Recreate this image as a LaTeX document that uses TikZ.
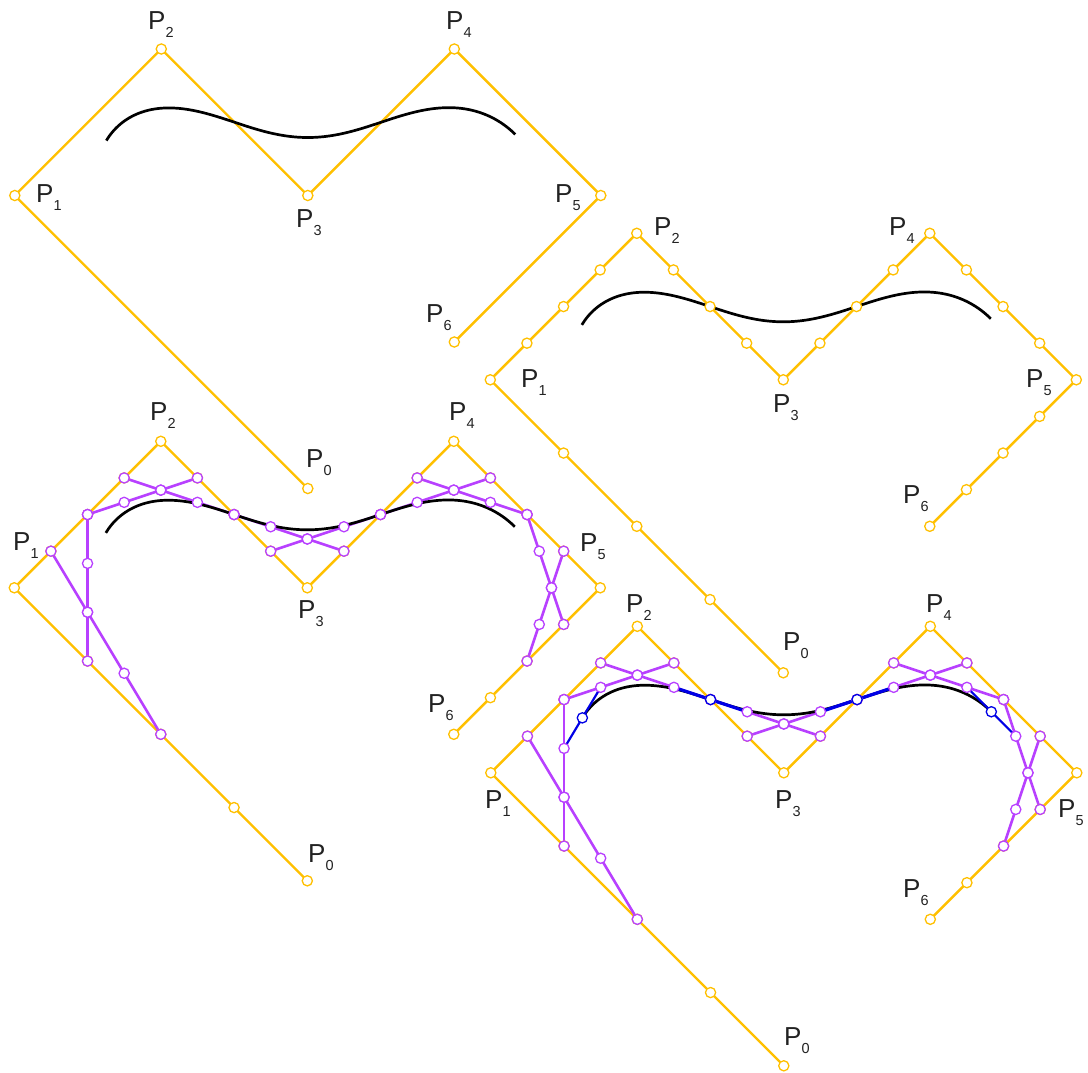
\documentclass[tikz,border=0pt]{standalone}
\usepackage{fontspec}
\setmainfont{Liberation Sans}
\usetikzlibrary{calc}
\definecolor{orng}{RGB}{255,192,0}
\definecolor{purp}{RGB}{184,64,255}
\definecolor{blu}{RGB}{0,0,230}
\definecolor{labc}{RGB}{34,34,34}
\tikzset{
  declare function={Na(\x)=(1-\x)^4/24; Nb(\x)=(11-12*\x-6*\x^2+12*\x^3-4*\x^4)/24;
    Nc(\x)=(11+12*\x-6*\x^2-12*\x^3+6*\x^4)/24; Nd(\x)=(1+4*\x+6*\x^2+4*\x^3-4*\x^4)/24;
    Ne(\x)=\x^4/24;},
  poly/.style={draw=orng, line width=2.4pt, line join=miter},
  purpln/.style={draw=purp, line width=2.6pt},
  bluln/.style={draw=blu, line width=2.2pt},
  blulnthick/.style={draw=blu, line width=3.2pt},
  curve/.style={draw=black, line width=2.7pt},
  dotO/.style={draw=orng, fill=white, line width=1.3pt},
  dotP/.style={draw=purp, fill=white, line width=1.3pt},
  dotB/.style={draw=blu, fill=white, line width=1.3pt},
  lab/.style={anchor=base west, inner sep=0pt, text=labc, font=\fontsize{26}{26}\selectfont},
}
\newcommand\lbl[1]{P\raisebox{-8pt}{\fontsize{14.5}{14.5}\selectfont #1}}
% base points and level-1 edge points
\newcommand\defpts[1]{%
  \coordinate (#1P0) at (2,-2);
  \coordinate (#1P1) at (0,0);
  \coordinate (#1P2) at (1,1);
  \coordinate (#1P3) at (2,0);
  \coordinate (#1P4) at (3,1);
  \coordinate (#1P5) at (4,0);
  \coordinate (#1P6) at (3,-1);
  \foreach \i in {0,...,5}{%
    \pgfmathtruncatemacro\j{\i+1}%
    \foreach \k in {1,2,3}{%
      \coordinate (#1e\i\k) at ($(#1P\i)!\k/4!(#1P\j)$);
    }%
  }%
}
\newcommand\drawpoly[1]{%
  \draw[poly] (#1P0) -- (#1P1) -- (#1P2) -- (#1P3) -- (#1P4) -- (#1P5) -- (#1P6);
}
\newcommand\drawcurve{%
  \draw[curve] plot[domain=0:1,samples=30,smooth] ({2*Na(\x)+Nc(\x)+2*Nd(\x)+3*Ne(\x)},{-2*Na(\x)+Nc(\x)+Ne(\x)})
    -- plot[domain=0:1,samples=30,smooth] ({Nb(\x)+2*Nc(\x)+3*Nd(\x)+4*Ne(\x)},{Nb(\x)+Nd(\x)})
    -- plot[domain=0:1,samples=30,smooth] ({Na(\x)+2*Nb(\x)+3*Nc(\x)+4*Nd(\x)+3*Ne(\x)},{Na(\x)+Nc(\x)-Ne(\x)});
}
\newcommand\vertdots[1]{%
  \foreach \i in {0,...,6}{\draw[dotO] (#1P\i) circle[radius=5.1pt];}%
}
\newcommand\edgedotsO[1]{%
  \foreach \i in {0,...,5}{\foreach \k in {1,2,3}{\draw[dotO] (#1e\i\k) circle[radius=5.1pt];}}%
}
\newcommand\deflevtwo[1]{%
  \foreach \i in {0,...,4}{%
    \pgfmathtruncatemacro\j{\i+1}%
    \coordinate (#1bc\i-a) at ($(#1e\i2)!1/3!(#1e\j1)$);
    \coordinate (#1bc\i-b) at ($(#1e\i2)!2/3!(#1e\j1)$);
    \coordinate (#1ab\i-a) at ($(#1e\i3)!1/3!(#1e\j2)$);
    \coordinate (#1ab\i-b) at ($(#1e\i3)!2/3!(#1e\j2)$);
  }%
}
\newcommand\drawlevtwo[1]{%
  \foreach \i in {0,...,4}{%
    \pgfmathtruncatemacro\j{\i+1}%
    \draw[purpln] (#1e\i2) -- (#1e\j1);
    \draw[purpln] (#1e\i3) -- (#1e\j2);
  }%
}
\newcommand\levtwodots[1]{%
  \foreach \i in {0,...,4}{%
    \pgfmathtruncatemacro\j{\i+1}%
    \draw[dotP] (#1e\i2) circle[radius=5.1pt];
    \draw[dotP] (#1e\i3) circle[radius=5.1pt];
    \draw[dotP] (#1e\j1) circle[radius=5.1pt];
    \draw[dotP] (#1e\j2) circle[radius=5.1pt];
    \draw[dotP] (#1bc\i-a) circle[radius=5.1pt];
    \draw[dotP] (#1bc\i-b) circle[radius=5.1pt];
    \draw[dotP] (#1ab\i-a) circle[radius=5.1pt];
    \draw[dotP] (#1ab\i-b) circle[radius=5.1pt];
  }%
}
\begin{document}
\begin{tikzpicture}[x=1pt,y=-1pt]
\useasboundingbox[fill=white] (0,0) rectangle (1088,1073);

% ---------- copy 1 ----------
\begin{scope}[shift={(14.8,195.5)}, x={(146.5pt,0pt)}, y={(0pt,146.5pt)}]
  \defpts{a}
  \drawpoly{a}
  \drawcurve
  \vertdots{a}
\end{scope}

% ---------- copy 2 ----------
\begin{scope}[shift={(490.3,379.8)}, x={(146.5pt,0pt)}, y={(0pt,146.5pt)}]
  \defpts{b}
  \drawpoly{b}
  \drawcurve
  \vertdots{b}
  \edgedotsO{b}
\end{scope}

% ---------- copy 3 ----------
\begin{scope}[shift={(14.3,587.8)}, x={(146.5pt,0pt)}, y={(0pt,146.5pt)}]
  \defpts{c}
  \deflevtwo{c}
  \drawpoly{c}
  \drawlevtwo{c}
  \drawcurve
  \vertdots{c}
  \edgedotsO{c}
  \levtwodots{c}
\end{scope}

% ---------- copy 4 ----------
\begin{scope}[shift={(490.8,772.8)}, x={(146.5pt,0pt)}, y={(0pt,146.5pt)}]
  \defpts{d}
  \deflevtwo{d}
  \drawpoly{d}
  \drawlevtwo{d}
  \drawcurve
  \foreach \i in {0,...,3}{%
    \pgfmathtruncatemacro\j{\i+1}%
    \coordinate (dc\i) at ($(dab\i-b)!0.5!(dbc\j-a)$);
  }
  \draw[bluln] (dab0-b) -- (dbc1-a);
  \draw[blulnthick] (dab1-b) -- (dbc2-a);
  \draw[blulnthick] (dab2-b) -- (dbc3-a);
  \draw[bluln] (dab3-b) -- (dbc4-a);
  \vertdots{d}
  \edgedotsO{d}
  \levtwodots{d}
  \foreach \i in {0,...,3}{\draw[dotB] (dc\i) circle[radius=5.1pt];}
\end{scope}

% ---------- labels ----------
\node[lab] (aL0) at (306,467) {\lbl{0}};
\node[lab] (aL1) at (36,202) {\lbl{1}};
\node[lab] (aL2) at (148,30) {\lbl{2}};
\node[lab] (aL3) at (296,227) {\lbl{3}};
\node[lab] (aL4) at (446,30) {\lbl{4}};
\node[lab] (aL5) at (555,202) {\lbl{5}};
\node[lab] (aL6) at (426,322) {\lbl{6}};

\node[lab] (bL0) at (783,650) {\lbl{0}};
\node[lab] (bL1) at (521,387) {\lbl{1}};
\node[lab] (bL2) at (654,235) {\lbl{2}};
\node[lab] (bL3) at (773,412) {\lbl{3}};
\node[lab] (bL4) at (889,235) {\lbl{4}};
\node[lab] (bL5) at (1026,387) {\lbl{5}};
\node[lab] (bL6) at (903,503) {\lbl{6}};

\node[lab] (cL0) at (308,862) {\lbl{0}};
\node[lab] (cL1) at (13,550) {\lbl{1}};
\node[lab] (cL2) at (150,420) {\lbl{2}};
\node[lab] (cL3) at (298,618) {\lbl{3}};
\node[lab] (cL4) at (449,420) {\lbl{4}};
\node[lab] (cL5) at (580,551) {\lbl{5}};
\node[lab] (cL6) at (428,712) {\lbl{6}};

\node[lab] (dL0) at (784,1045) {\lbl{0}};
\node[lab] (dL1) at (485,808) {\lbl{1}};
\node[lab] (dL2) at (626,612) {\lbl{2}};
\node[lab] (dL3) at (775,808) {\lbl{3}};
\node[lab] (dL4) at (926,612) {\lbl{4}};
\node[lab] (dL5) at (1058,817) {\lbl{5}};
\node[lab] (dL6) at (903,897) {\lbl{6}};
\end{tikzpicture}
\end{document}
